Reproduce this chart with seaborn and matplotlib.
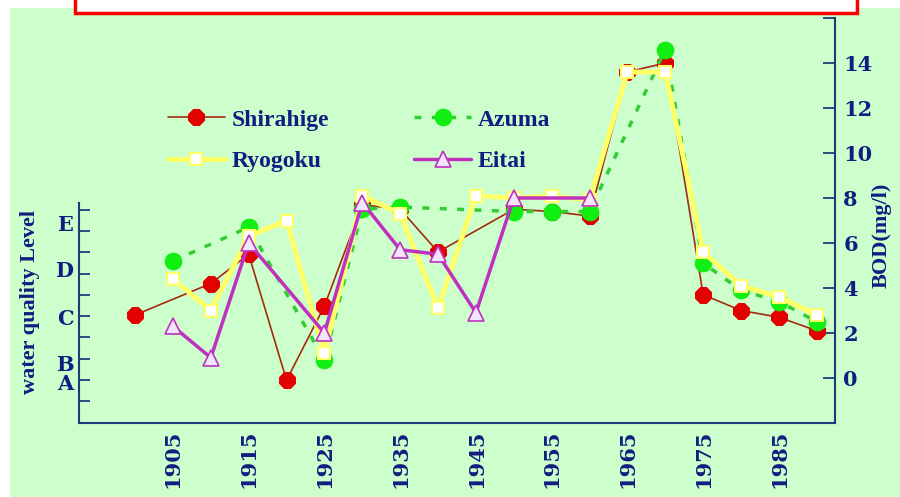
import matplotlib
matplotlib.use("Agg")
import matplotlib.pyplot as plt
import seaborn as sns
import pandas as pd
from matplotlib.patches import Rectangle

# BOD (mg/l), per station
shirahige_years = [1900, 1910, 1915, 1920, 1925, 1930, 1935, 1940, 1950, 1955, 1960, 1965, 1970, 1975, 1980, 1985, 1990]
shirahige_bod = [2.8, 4.2, 5.5, -0.1, 3.2, 7.7, 7.5, 5.6, 7.5, 7.4, 7.2, 13.6, 14.0, 3.7, 3.0, 2.7, 2.1]

azuma_years = [1905, 1915, 1925, 1930, 1935, 1950, 1955, 1960, 1970, 1975, 1980, 1985, 1990]
azuma_bod = [5.2, 6.7, 0.8, 7.5, 7.6, 7.4, 7.4, 7.4, 14.6, 5.1, 3.9, 3.4, 2.5]

ryogoku_years = [1905, 1910, 1915, 1920, 1925, 1930, 1935, 1940, 1945, 1950, 1955, 1960, 1965, 1970, 1975, 1980, 1985, 1990]
ryogoku_bod = [4.4, 3.0, 6.3, 7.0, 1.1, 8.1, 7.3, 3.1, 8.1, 8.0, 8.1, 7.9, 13.6, 13.6, 5.6, 4.1, 3.6, 2.8]

eitai_years = [1905, 1910, 1915, 1925, 1930, 1935, 1940, 1945, 1950, 1960]
eitai_bod = [2.3, 0.9, 6.0, 2.0, 7.8, 5.7, 5.5, 2.9, 8.0, 8.0]

year_labels = [1905, 1915, 1925, 1935, 1945, 1955, 1965, 1975, 1985]
bod_ticks = [0, 2, 4, 6, 8, 10, 12, 14]
level_labels = ["A", "B", "C", "D", "E"]
level_pos = [1.9, 2.8, 4.95, 7.2, 9.4]

NAVY = "#111d80"
AXC = "#1f3a78"
SERIF = "Liberation Serif"
WIDE = "DejaVu Serif"

sns.set_style("white")
plt.rcParams["font.family"] = [SERIF, "DejaVu Sans"]

fig = plt.figure(figsize=(9, 4.97), dpi=100)
fig.patch.set_facecolor("white")
fig.add_artist(Rectangle((10 / 900, 0), 890 / 900, 1 - 8 / 497, transform=fig.transFigure,
                         facecolor="#ccffcc", edgecolor="none", zorder=-10))
fig.add_artist(Rectangle((75 / 900, 1 - 13 / 497), 782 / 900, 30 / 497, transform=fig.transFigure,
                         facecolor="white", edgecolor="red", linewidth=2.5, zorder=5))

ax = fig.add_axes([79 / 900, 1 - 423 / 497, (835 - 79) / 900, (423 - 18) / 497])
ax.patch.set_alpha(0)
axl = ax.twinx()
axl.patch.set_alpha(0)

df_s = pd.DataFrame({"year": shirahige_years, "bod": shirahige_bod})
df_a = pd.DataFrame({"year": azuma_years, "bod": azuma_bod})
df_r = pd.DataFrame({"year": ryogoku_years, "bod": ryogoku_bod})
df_e = pd.DataFrame({"year": eitai_years, "bod": eitai_bod})

sns.lineplot(data=df_s, x="year", y="bod", ax=ax, color="#a52a10", linewidth=1.2,
             marker="8", markersize=12, markerfacecolor="#e30000", markeredgecolor="#e30000",
             label="Shirahige")
sns.lineplot(data=df_a, x="year", y="bod", ax=ax, color="#33cc33", linewidth=2.5,
             linestyle=(0, (2, 3)), marker="o", markersize=12, markerfacecolor="#11ee11",
             markeredgecolor="#11ee11", label="Azuma")
sns.lineplot(data=df_r, x="year", y="bod", ax=ax, color="#ffff66", linewidth=3.5,
             marker="s", markersize=9, markerfacecolor="white", markeredgecolor="#ffff66",
             markeredgewidth=1.5, label="Ryogoku")
sns.lineplot(data=df_e, x="year", y="bod", ax=ax, color="#c030c0", linewidth=2.5,
             marker="^", markersize=11, markerfacecolor="#f2e6ff", markeredgecolor="#c030c0",
             markeredgewidth=1.2, label="Eitai")

ax.set_xlim(1892.6, 1992.4)
ax.set_ylim(-2, 16)
ax.set_xlabel("")

# x axis: tick marks between labels, labels centred on decades
ax.set_xticks(year_labels)
ax.set_xticklabels([str(y) for y in year_labels], rotation=90, fontfamily=WIDE,
                   fontweight="bold", fontsize=15, color=NAVY)
ax.set_xticks([1897.5 + 5 * i for i in range(19)], minor=True)
ax.tick_params(axis="x", which="major", length=0, pad=5)
ax.tick_params(axis="x", which="minor", direction="in", length=8, width=1.3, color=AXC)

# right BOD axis
ax.yaxis.tick_right()
ax.set_yticks([-2] + bod_ticks + [16])
ax.set_yticklabels([""] + [str(v) for v in bod_ticks] + [""], fontfamily=WIDE,
                   fontweight="bold", fontsize=15, color=NAVY)
ax.tick_params(axis="y", which="major", direction="in", length=9, width=1.3, color=AXC,
               pad=6, left=False, right=True, labelleft=False, labelright=True)
ax.yaxis.set_label_position("right")
ax.set_ylabel("BOD(mg/l)", fontsize=16, fontweight="bold", color=NAVY)
ax.yaxis.set_label_coords(1.049, 0.464)

for side in ["left", "top"]:
    ax.spines[side].set_visible(False)
for side in ["right", "bottom"]:
    ax.spines[side].set_color(AXC)
    ax.spines[side].set_linewidth(1.5)

# left water quality level axis
axl.set_ylim(-0.04, 19.05)
axl.yaxis.tick_left()
axl.yaxis.set_label_position("left")
axl.set_yticks(level_pos)
axl.set_yticklabels(level_labels, fontfamily=WIDE, fontweight="bold", fontsize=15, color=NAVY)
axl.set_yticks(list(range(1, 11)), minor=True)
axl.tick_params(axis="y", which="major", length=0, pad=4)
axl.tick_params(axis="y", which="minor", direction="in", length=8, width=1.3, color=AXC,
                left=True, right=False)
for side in ["right", "top", "bottom"]:
    axl.spines[side].set_visible(False)
axl.spines["left"].set_color(AXC)
axl.spines["left"].set_linewidth(1.5)
axl.spines["left"].set_bounds(-0.04, 10.33)
axl.set_ylabel("water quality Level", fontsize=16, fontweight="bold", color=NAVY)
axl.yaxis.set_label_coords(-0.052, 0.299)

ax.get_legend().remove()
handles, labels = ax.get_legend_handles_labels()
order = [0, 2, 1, 3]
leg = fig.legend([handles[i] for i in order], [labels[i] for i in order], ncol=2,
                 frameon=False, loc="upper left",
                 bbox_to_anchor=(168 / 900, 1 - 109 / 497), bbox_transform=fig.transFigure,
                 borderpad=0, borderaxespad=0, handlelength=2.4, handletextpad=0.3,
                 columnspacing=3.6, labelspacing=0.85,
                 prop={"family": SERIF, "weight": "bold", "size": 17})
for t in leg.get_texts():
    t.set_color(NAVY)

fig.savefig("out.png", dpi=100, facecolor=fig.get_facecolor())
